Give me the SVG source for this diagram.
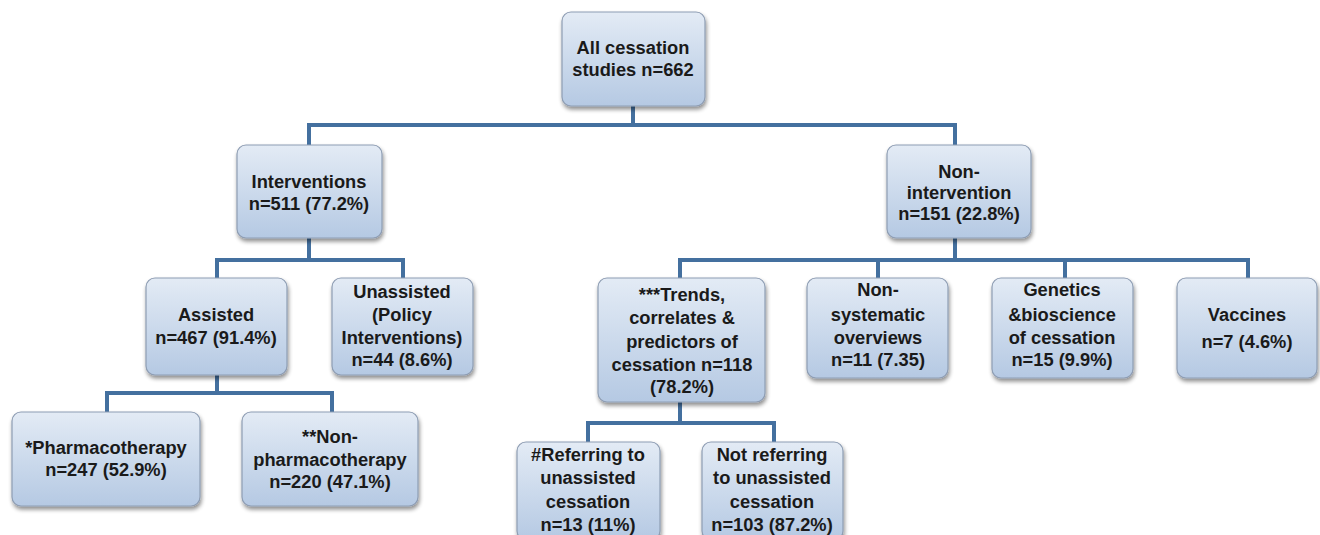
<svg xmlns="http://www.w3.org/2000/svg" width="1320" height="535" viewBox="0 0 1320 535">
<defs>
<linearGradient id="g" x1="0" y1="0" x2="0" y2="1">
<stop offset="0" stop-color="#e3ebf5"/>
<stop offset="1" stop-color="#b5c9e3"/>
</linearGradient>
<filter id="sh" x="-10%" y="-10%" width="130%" height="130%">
<feGaussianBlur in="SourceAlpha" stdDeviation="2"/>
<feOffset dx="1" dy="3" result="o"/>
<feComponentTransfer><feFuncA type="linear" slope="0.45"/></feComponentTransfer>
<feMerge><feMergeNode/><feMergeNode in="SourceGraphic"/></feMerge>
</filter>
</defs>
<style>
.b{fill:url(#g);stroke:#8e9db3;stroke-width:1.2;filter:url(#sh)}
.t{font-family:"Liberation Sans",Arial,sans-serif;font-weight:bold;font-size:18.3px;fill:#1a1a1a;text-anchor:middle}
.c{fill:none;stroke:#44709f;stroke-width:4}
</style>
<rect width="1320" height="535" fill="#ffffff"/>
<g id="connectors">
<path class="c" d="M633 106V125M309 125H955M309 123V145M955 123V145"/>
<path class="c" d="M309 238V260M217 260H403M217 258V278M403 258V278"/>
<path class="c" d="M955 238V260M680 260H1248M680 258V278M878 258V278M1065 258V278M1248 258V278"/>
<path class="c" d="M217 375V393M107 393H332M107 391V412M332 391V412"/>
<path class="c" d="M680 402V423M588 423H774M588 421V442M774 421V442"/>
</g>
<g id="root"><rect class="b" x="562" y="12" width="143" height="94" rx="9"/>
<text class="t" x="633" y="54">All cessation</text><text class="t" x="633" y="76">studies n=662</text></g>
<g id="interventions"><rect class="b" x="237" y="145" width="145" height="93" rx="9"/>
<text class="t" x="309" y="188">Interventions</text><text class="t" x="309" y="210">n=511 (77.2%)</text></g>
<g id="nonintervention"><rect class="b" x="887" y="145" width="144" height="93" rx="9"/>
<text class="t" x="959" y="178">Non-</text><text class="t" x="959" y="199">intervention</text><text class="t" x="959" y="220">n=151 (22.8%)</text></g>
<g id="assisted"><rect class="b" x="146" y="278" width="141" height="97" rx="9"/>
<text class="t" x="216" y="321">Assisted</text><text class="t" x="216" y="344">n=467 (91.4%)</text></g>
<g id="unassisted"><rect class="b" x="332" y="278" width="141" height="97" rx="9"/>
<text class="t" x="402" y="298">Unassisted</text><text class="t" x="402" y="321">(Policy</text><text class="t" x="402" y="344">Interventions)</text><text class="t" x="402" y="366">n=44 (8.6%)</text></g>
<g id="pharmacotherapy"><rect class="b" x="12" y="412" width="188" height="94" rx="9"/>
<text class="t" x="106" y="454">*Pharmacotherapy</text><text class="t" x="106" y="476">n=247 (52.9%)</text></g>
<g id="nonpharmacotherapy"><rect class="b" x="242" y="412" width="176" height="94" rx="9"/>
<text class="t" x="330" y="443">**Non-</text><text class="t" x="330" y="466">pharmacotherapy</text><text class="t" x="330" y="488">n=220 (47.1%)</text></g>
<g id="trends"><rect class="b" x="598" y="278" width="167" height="124" rx="9"/>
<text class="t" x="682" y="301">***Trends,</text><text class="t" x="682" y="324">correlates &amp;</text><text class="t" x="682" y="348">predictors of</text><text class="t" x="682" y="371">cessation n=118</text><text class="t" x="682" y="393">(78.2%)</text></g>
<g id="nonsystematic"><rect class="b" x="807" y="278" width="141" height="100" rx="9"/>
<text class="t" x="878" y="296">Non-</text><text class="t" x="878" y="321">systematic</text><text class="t" x="878" y="344">overviews</text><text class="t" x="878" y="366">n=11 (7.35)</text></g>
<g id="genetics"><rect class="b" x="992" y="278" width="141" height="100" rx="9"/>
<text class="t" x="1062" y="296">Genetics</text><text class="t" x="1062" y="321">&amp;bioscience</text><text class="t" x="1062" y="344">of cessation</text><text class="t" x="1062" y="366">n=15 (9.9%)</text></g>
<g id="vaccines"><rect class="b" x="1177" y="278" width="140" height="100" rx="9"/>
<text class="t" x="1247" y="321">Vaccines</text><text class="t" x="1247" y="348">n=7 (4.6%)</text></g>
<g id="referring"><rect class="b" x="517" y="442" width="143" height="98" rx="9"/>
<text class="t" x="588" y="461">#Referring to</text><text class="t" x="588" y="484">unassisted</text><text class="t" x="588" y="508">cessation</text><text class="t" x="588" y="531">n=13 (11%)</text></g>
<g id="notreferring"><rect class="b" x="702" y="442" width="141" height="98" rx="9"/>
<text class="t" x="772" y="461">Not referring</text><text class="t" x="772" y="484">to unassisted</text><text class="t" x="772" y="508">cessation</text><text class="t" x="772" y="531">n=103 (87.2%)</text></g>
</svg>
